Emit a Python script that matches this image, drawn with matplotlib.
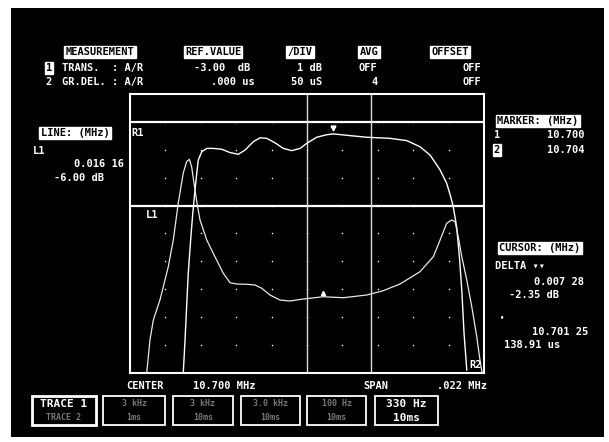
import numpy as np
import matplotlib.pyplot as plt
from matplotlib.patches import Rectangle

# sweep settings shown on the screen
center_mhz = 10.700
span_mhz = 0.022
ref_db = -3.0        # R1
line_db = -6.0       # L1
db_per_div = 1.0
us_per_div = 50.0
marker_mhz = [10.700, 10.704]

# trace 1: transmission (dB)
mag_mhz = [10.69231, 10.69242, 10.69252, 10.69262, 10.69277, 10.69290, 10.69304,
           10.69315, 10.69324, 10.69346, 10.69377, 10.69418, 10.69470, 10.69522,
           10.69573, 10.69615, 10.69666, 10.69708, 10.69750, 10.69801, 10.69853,
           10.69905, 10.69957, 10.69998, 10.70060, 10.70122, 10.70164, 10.70247,
           10.70371, 10.70516, 10.70620, 10.70702, 10.70765, 10.70827, 10.70868,
           10.70893, 10.70909, 10.70930, 10.70947, 10.70962, 10.70976, 10.70993]
mag_db = [-12.0, -10.82, -9.62, -8.43, -7.23, -6.28, -5.44,
          -4.84, -4.37, -4.07, -3.95, -3.95, -3.98, -4.10,
          -4.16, -4.01, -3.71, -3.57, -3.59, -3.75, -3.95,
          -4.03, -3.95, -3.77, -3.55, -3.46, -3.43, -3.48,
          -3.55, -3.59, -3.67, -3.89, -4.19, -4.72, -5.20,
          -5.68, -6.04, -6.76, -7.83, -9.03, -10.58, -11.89]

# trace 2: group delay (us)
gd_mhz = [10.69004, 10.69024, 10.69045, 10.69086, 10.69107, 10.69138, 10.69169,
          10.69200, 10.69231, 10.69252, 10.69269, 10.69283, 10.69304, 10.69315,
          10.69335, 10.69377, 10.69428, 10.69480, 10.69522, 10.69563, 10.69625,
          10.69677, 10.69719, 10.69770, 10.69832, 10.69894, 10.69977, 10.70101,
          10.70226, 10.70371, 10.70474, 10.70578, 10.70702, 10.70785, 10.70827,
          10.70868, 10.70899, 10.70920, 10.70940, 10.70962, 10.70993, 10.71024,
          10.71055, 10.71075, 10.71088]
gd_us = [0, 59.1, 95.0, 130.8, 154.7, 190.5, 238.3,
         304.6, 358.4, 378.7, 383.0, 369.7, 328.0, 307.0,
         274.4, 238.3, 208.4, 178.6, 161.7, 159.5, 159.0,
         157.7, 151.8, 139.8, 130.8, 129.0, 132.6, 136.7,
         134.9, 139.8, 147.5, 159.5, 181.5, 208.4, 238.3,
         268.3, 274.2, 271.1, 244.2, 208.4, 166.7, 118.8,
         65.0, 23.3, 0]

W, H = 609, 442
fig = plt.figure(figsize=(W / 100, H / 100), dpi=100, facecolor='white')
fig.patches.append(Rectangle((11 / W, 1 - 437 / H), 593 / W, 429 / H,
                             transform=fig.transFigure, fc='black', ec='none', zorder=-5))

ax = fig.add_axes([130 / W, 1 - 373 / H, 354 / W, 279 / H])
ax.set_zorder(2)
ax.set_facecolor('black')
ax.set_xlim(center_mhz - span_mhz / 2, center_mhz + span_mhz / 2)
ax.set_ylim(ref_db - 9 * db_per_div, ref_db + db_per_div)
for s in ax.spines.values():
    s.set_color('white')
    s.set_linewidth(1.5)
ax.set_xticks([])
ax.set_yticks([])

# graticule dots
gx = np.linspace(*ax.get_xlim(), 11)[1:-1]
gy = np.linspace(*ax.get_ylim(), 11)[1:-1]
GX, GY = np.meshgrid(gx, gy)
ax.scatter(GX.ravel(), GY.ravel(), s=1.2, color='white', lw=0)

ax.axhline(ref_db, color='white', lw=1.6)
ax.axhline(line_db, color='white', lw=1.6)
for m in marker_mhz:
    ax.axvline(m, color='#d8d8d8', lw=1.0)

ax.plot(mag_mhz, mag_db, color='white', lw=1.0)
ax.plot(10.7016, -3.22, marker='v', ms=3.5, color='white')

ax2 = ax.twinx()
ax2.set_zorder(3)
ax2.set_ylim(0, 10 * us_per_div)
ax2.axis('off')
ax2.plot(gd_mhz, gd_us, color='#e8e8e8', lw=0.9)
ax2.plot(10.7010, 143, marker='^', ms=3, color='white')

mono = 'DejaVu Sans Mono'
FS = 7.5


def txt(x, y, s, ha='left', size=FS, color='white', inv=False):
    kw = dict(ha=ha, va='center', family=mono, fontsize=size, fontweight='bold', color=color)
    if inv:
        kw['color'] = 'black'
        kw['bbox'] = dict(boxstyle='square,pad=0.12', fc='white', ec='white')
    fig.text(x / W, 1 - y / H, s, **kw)


for lbl, xa, ya, ha in [('R1', 0.005, 0.86, 'left'), ('L1', 0.045, 0.565, 'left'),
                        ('R2', 0.995, 0.03, 'right')]:
    ax2.text(xa, ya, lbl, transform=ax.transAxes, color='white', family=mono,
             fontsize=FS, fontweight='bold', va='center', ha=ha)

# header
txt(100, 52, 'MEASUREMENT', ha='center', inv=True)
txt(213, 52, 'REF.VALUE', ha='center', inv=True)
txt(300, 52, '/DIV', ha='center', inv=True)
txt(369, 52, 'AVG', ha='center', inv=True)
txt(450, 52, 'OFFSET', ha='center', inv=True)

txt(49, 68, '1', ha='center', inv=True)
txt(62, 68, 'TRANS.  : A/R')
txt(250, 68, '-3.00  dB', ha='right')
txt(322, 68, '1 dB', ha='right')
txt(359, 68, 'OFF')
txt(481, 68, 'OFF', ha='right')

txt(49, 82, '2', ha='center')
txt(62, 82, 'GR.DEL. : A/R')
txt(255, 82, '.000 us', ha='right')
txt(322, 82, '50 uS', ha='right')
txt(378, 82, '4', ha='right')
txt(481, 82, 'OFF', ha='right')

# left panel
txt(75, 133, 'LINE: (MHz)', ha='center', inv=True)
txt(33, 151, 'L1')
txt(124, 164, '0.016 16', ha='right')
txt(104, 178, '-6.00 dB', ha='right')

# right panel
txt(538, 121, 'MARKER: (MHz)', ha='center', inv=True)
txt(494, 135, '1')
txt(584, 135, '10.700', ha='right')
txt(497, 150, '2', ha='center', inv=True)
txt(584, 150, '10.704', ha='right')

txt(540, 248, 'CURSOR: (MHz)', ha='center', inv=True)
txt(495, 266, 'DELTA \u25be\u25be')
txt(584, 282, '0.007 28', ha='right')
txt(509, 295, '-2.35 dB')
txt(499, 317, '\u2022', size=5)
txt(588, 332, '10.701 25', ha='right')
txt(504, 345, '138.91 us')

# bottom readout
txt(126, 386, 'CENTER')
txt(193, 386, '10.700 MHz')
txt(363, 386, 'SPAN')
txt(487, 386, '.022 MHz', ha='right')

# softkeys
keys = [(32, 96, 'TRACE 1', 'TRACE 2'), (103, 165, '3 kHz', '1ms'),
        (173, 233, '3 kHz', '10ms'), (241, 300, '3.0 kHz', '10ms'),
        (307, 366, '100 Hz', '10ms'), (375, 438, '330 Hz', '10ms')]
for i, (x0, x1, top, bot) in enumerate(keys):
    fig.patches.append(Rectangle((x0 / W, 1 - 425 / H), (x1 - x0) / W, 29 / H,
                                 transform=fig.transFigure, fc='none', ec='white',
                                 lw=2.0 if i == 0 else 1.3))
    xc = (x0 + x1) / 2
    if i == 0:
        txt(xc, 404, top, ha='center', size=8)
        txt(xc, 418, bot, ha='center', size=6, color='#777777')
    elif i == len(keys) - 1:
        txt(xc, 404, top, ha='center', size=8)
        txt(xc, 418, bot, ha='center', size=8)
    else:
        txt(xc, 404, top, ha='center', size=6, color='#777777')
        txt(xc, 418, bot, ha='center', size=6, color='#777777')

fig.savefig('out.png', dpi=100, facecolor='white')
